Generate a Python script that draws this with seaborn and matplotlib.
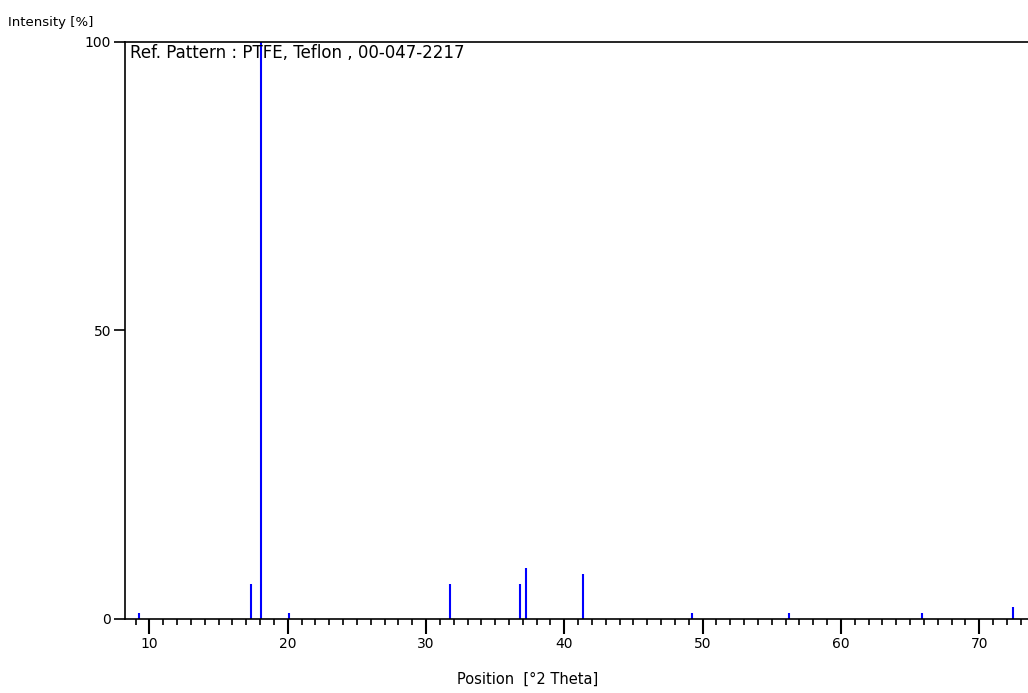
import matplotlib
matplotlib.use("Agg")
import matplotlib.pyplot as plt
import seaborn as sns
from matplotlib.ticker import MultipleLocator

# reference peaks, PTFE (Teflon) 00-047-2217
positions = [9.28, 17.38, 18.10, 20.12, 31.72, 36.78, 37.22, 41.36, 49.26, 56.25, 65.89, 72.47]
intensities = [1.0, 6.1, 100.0, 1.0, 6.1, 6.1, 8.8, 7.8, 1.0, 1.0, 1.0, 2.0]
x_ticks = [10, 20, 30, 40, 50, 60, 70]
y_ticks = [0, 50, 100]

sns.set_style("ticks")
plt.rcParams['font.family'] = ['DejaVu Sans']
plt.rcParams['text.color'] = 'black'
plt.rcParams['axes.labelcolor'] = 'black'

fig = plt.figure(figsize=(10.28, 6.93), dpi=100)
ax = fig.add_axes([0.1216, 0.1068, 0.8784, 0.8326])

ax.vlines(positions, 0, intensities, color='#0000FF', linewidth=1.5)

ax.set_xlim(8.24, 73.52)
ax.set_ylim(0, 100)
ax.set_xticks(x_ticks)
ax.set_yticks(y_ticks)
ax.xaxis.set_minor_locator(MultipleLocator(1))

for s in ['left', 'bottom', 'top']:
    ax.spines[s].set_color('black')
    ax.spines[s].set_linewidth(1.2)
ax.spines['right'].set_visible(False)

ax.tick_params(axis='x', which='major', direction='out', length=11, width=1.5,
               labelsize=10, pad=2, colors='black')
ax.tick_params(axis='x', which='minor', direction='out', length=4, width=1.2, colors='black')
ax.tick_params(axis='y', which='major', direction='out', length=8, width=1.2,
               labelsize=10, pad=2, colors='black')

ax.set_xlabel('Position  [°2 Theta]', fontsize=10.5)
ax.xaxis.set_label_coords(0.446, -0.091)
fig.text(0.008, 0.968, 'Intensity [%]', fontsize=9.5, ha='left', va='center')
ax.text(0.005, 0.997, 'Ref. Pattern : PTFE, Teflon , 00-047-2217', transform=ax.transAxes,
        fontsize=12, ha='left', va='top')

fig.savefig('out.png', dpi=100)
